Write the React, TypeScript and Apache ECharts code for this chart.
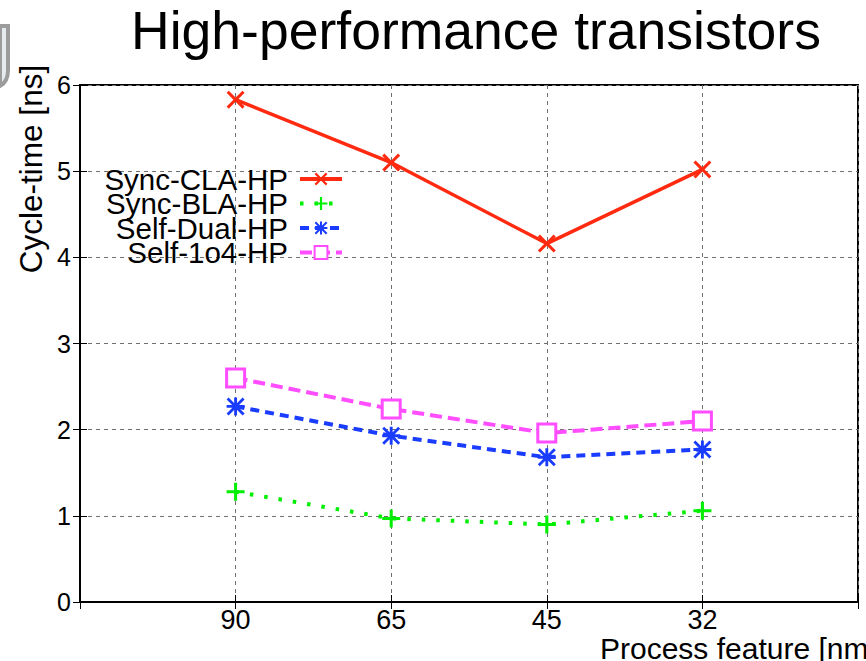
import React, { useEffect, useRef } from 'react';
import * as echarts from 'echarts';

const categories = ['90', '65', '45', '32'];
const seriesNames = ['Sync-CLA-HP', 'Sync-BLA-HP', 'Self-Dual-HP', 'Self-1o4-HP'];
const syncCLA = [5.83, 5.1, 4.16, 5.02];
const syncBLA = [1.28, 0.97, 0.9, 1.06];
const selfDual = [2.27, 1.93, 1.68, 1.77];
const self1o4 = [2.6, 2.24, 1.96, 2.1];
const yMin = 0;
const yMax = 6;

const FONT = 'Liberation Sans, Arial, Helvetica, sans-serif';

const X_PATH =
  'path://M0,2.4 L2.4,0 L10,7.6 L17.6,0 L20,2.4 L12.4,10 L20,17.6 L17.6,20 L10,12.4 L2.4,20 L0,17.6 L7.6,10 Z';
const PLUS_PATH = 'path://M8.3,0 H11.7 V20 H8.3 Z M0,8.3 H20 V11.7 H0 Z';
const STAR_PATH =
  'path://M8.4,0 H11.6 V20 H8.4 Z M0,8.4 H20 V11.6 H0 Z M0,2.2 L2.2,0 L20,17.8 L17.8,20 Z M17.8,0 L20,2.2 L2.2,20 L0,17.8 Z';

let registered = false;

export default function App() {
  const ref = useRef<HTMLDivElement>(null);
  useEffect(() => {
    if (!ref.current) return;
    if (!registered) {
      echarts.graphic.registerShape(
        'logo',
        echarts.graphic.extendPath('M0 0 L8 0 L8 44 Q8 56 0 60 Z' as any, {}) as any
      );
      registered = true;
    }
    const chart = echarts.init(ref.current, null, { renderer: 'svg' });
    const toPairs = (vals: number[]) => vals.map((v, i) => [i + 1, v]);
    const gridLine = { show: true, lineStyle: { color: '#707070', type: [4, 4], width: 1 } };
    const option: any = {
      animation: false,
      backgroundColor: '#ffffff',
      title: {
        text: 'High-performance transistors',
        left: 476,
        top: 3,
        textAlign: 'center',
        padding: 0,
        textStyle: { fontFamily: FONT, fontSize: 53.5, fontWeight: 'normal', color: '#000' },
      },
      grid: {
        left: 80,
        right: 8,
        top: 85,
        bottom: 59,
        show: true,
        borderColor: '#000',
        borderWidth: 2,
        backgroundColor: 'transparent',
      },
      legend: {
        orient: 'vertical',
        left: 73,
        top: 159,
        align: 'right',
        itemWidth: 42,
        itemHeight: 16,
        itemGap: -5.5,
        data: seriesNames,
        lineStyle: { width: 4 },
        textStyle: {
          fontFamily: FONT,
          fontSize: 29.5,
          color: '#000',
          width: 210,
          lineHeight: 29,
          align: 'right',
          padding: [0, 7, 0, 0],
        },
      },
      xAxis: [
        {
          type: 'value',
          min: 0,
          max: categories.length + 1,
          interval: 1,
          axisLine: { show: true, lineStyle: { color: '#000', width: 2 } },
          axisTick: { show: true, inside: true, length: 7, lineStyle: { color: '#000' } },
          axisLabel: {
            fontFamily: FONT,
            fontSize: 27,
            color: '#000',
            margin: 4,
            formatter: (v: number) => categories[v - 1] ?? '',
          },
          splitLine: gridLine,
        },
        {
          type: 'value',
          position: 'top',
          min: 0,
          max: categories.length + 1,
          interval: 1,
          axisLine: { show: false },
          axisTick: { show: true, inside: true, length: 7, lineStyle: { color: '#000' } },
          axisLabel: { show: false },
          splitLine: { show: false },
        },
      ],
      yAxis: [
        {
          type: 'value',
          min: yMin,
          max: yMax,
          interval: 1,
          axisLine: { show: true, lineStyle: { color: '#000', width: 2 } },
          axisTick: { show: true, inside: true, length: 7, lineStyle: { color: '#000' } },
          axisLabel: { fontFamily: FONT, fontSize: 25, color: '#000', margin: 9 },
          splitLine: gridLine,
        },
        {
          type: 'value',
          position: 'right',
          min: yMin,
          max: yMax,
          interval: 1,
          axisLine: { show: false },
          axisTick: { show: true, inside: true, length: 7, lineStyle: { color: '#000' } },
          axisLabel: { show: false },
          splitLine: { show: false },
        },
      ],
      graphic: [
        {
          type: 'logo',
          x: 0,
          y: 26,
          style: { fill: '#e4ecee', stroke: '#9c9c9c', lineWidth: 4 },
        },
        {
          type: 'text',
          x: 31,
          y: 169,
          rotation: Math.PI / 2,
          style: {
            text: 'Cycle-time [ns]',
            fontFamily: FONT,
            fontSize: 31.5,
            fill: '#000',
            align: 'center',
            verticalAlign: 'middle',
          },
        },
        {
          type: 'text',
          x: 600,
          y: 648,
          style: {
            text: 'Process feature [nm]',
            fontFamily: FONT,
            fontSize: 30,
            fill: '#000',
            align: 'left',
            verticalAlign: 'middle',
          },
        },
      ],
      series: [
        {
          name: seriesNames[0],
          type: 'line',
          data: toPairs(syncCLA),
          symbol: X_PATH,
          symbolSize: 18,
          lineStyle: { color: '#ff2a10', width: 3.5, type: 'solid' },
          itemStyle: { color: '#ff2a10' },
          z: 5,
        },
        {
          name: seriesNames[1],
          type: 'line',
          data: toPairs(syncBLA),
          symbol: PLUS_PATH,
          symbolSize: 18,
          lineStyle: { color: '#00ee00', width: 4, type: [3.5, 11] },
          itemStyle: { color: '#00ee00' },
          z: 5,
        },
        {
          name: seriesNames[2],
          type: 'line',
          data: toPairs(selfDual),
          symbol: STAR_PATH,
          symbolSize: 18,
          lineStyle: { color: '#1a3cff', width: 4, type: [9, 6] },
          itemStyle: { color: '#1a3cff' },
          z: 5,
        },
        {
          name: seriesNames[3],
          type: 'line',
          data: toPairs(self1o4),
          symbol: 'rect',
          symbolSize: 18,
          lineStyle: { color: '#ff4dff', width: 4, type: [12, 6] },
          itemStyle: { color: '#ffffff', borderColor: '#ff4dff', borderWidth: 3 },
          z: 5,
        },
      ],
    };
    chart.setOption(option);
    return () => chart.dispose();
  }, []);
  return (
    <div
      ref={ref}
      style={{ position: 'absolute', left: 0, top: 0, width: 866, height: 661, overflow: 'hidden' }}
    />
  );
}
